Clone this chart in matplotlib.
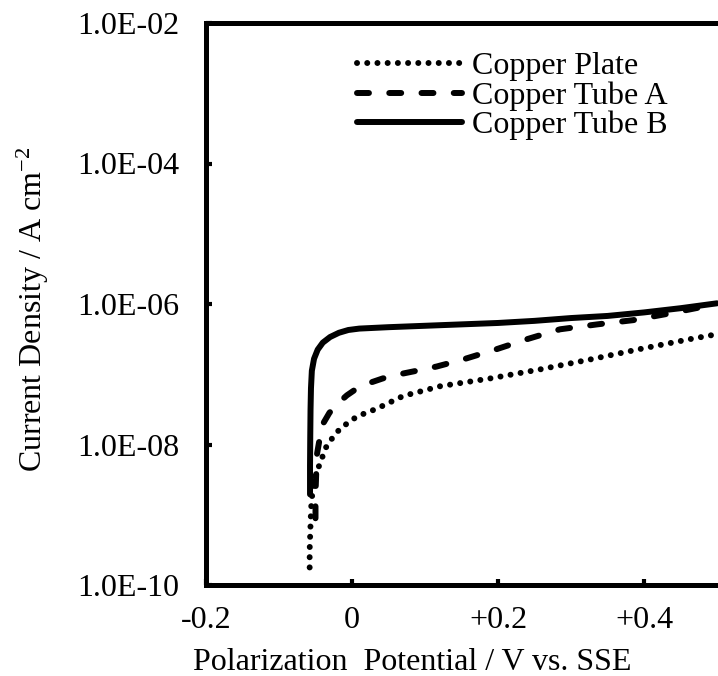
import numpy as np
import matplotlib
matplotlib.use("Agg")
import matplotlib.pyplot as plt

# ---- data (potential in V vs. SSE, log10 of current density) ----
plate_v = [-0.058, -0.058, -0.057, -0.056, -0.054, -0.050, -0.044, -0.034, -0.016, 0.007,
           0.034, 0.070, 0.121, 0.189, 0.258, 0.326, 0.395, 0.463, 0.5]
plate_log = [-9.75, -9.5, -9.2, -8.9, -8.65, -8.45, -8.27, -8.0, -7.77, -7.6,
             -7.49, -7.31, -7.17, -7.06, -6.93, -6.79, -6.64, -6.5, -6.43]

tubeA_v = [-0.050, -0.050, -0.049, -0.048, -0.044, -0.040, -0.031, -0.021, -0.007, 0.007,
           0.025, 0.042, 0.065, 0.084, 0.116, 0.152, 0.199, 0.240, 0.285, 0.336,
           0.385, 0.432, 0.5]
tubeA_log = [-9.05, -8.7, -8.4, -8.14, -7.9, -7.71, -7.55, -7.43, -7.3, -7.2,
             -7.12, -7.06, -7.0, -6.96, -6.89, -6.79, -6.64, -6.5, -6.36, -6.29,
             -6.23, -6.14, -6.0]

tubeB_v = [-0.0575, -0.0575, -0.0572, -0.0568, -0.0562, -0.055, -0.052, -0.047, -0.040, -0.030,
           -0.018, -0.005, 0.01, 0.05, 0.1, 0.15, 0.2, 0.25, 0.3, 0.35,
           0.4, 0.45, 0.5]
tubeB_log = [-8.71, -8.3, -7.9, -7.5, -7.2, -6.95, -6.78, -6.65, -6.55, -6.47,
             -6.41, -6.37, -6.35, -6.33, -6.31, -6.29, -6.27, -6.24, -6.2, -6.17,
             -6.12, -6.06, -5.99]

series_labels = ["Copper Plate", "Copper Tube A", "Copper Tube B"]

xticks = [-0.2, 0.0, 0.2, 0.4]
xtick_labels = ["-0.2", "0", "+0.2", "+0.4"]
yticks = [1e-10, 1e-8, 1e-6, 1e-4, 1e-2]
ytick_labels = ["1.0E-10", "1.0E-08", "1.0E-06", "1.0E-04", "1.0E-02"]

xlabel = "Polarization  Potential / V vs. SSE"
ylabel = r"Current Density / A cm$^{\mathregular{-2}}$"

# ---- figure ----
plt.rcParams["font.family"] = ["Liberation Serif", "DejaVu Serif"]
plt.rcParams["mathtext.fontset"] = "custom"
plt.rcParams["mathtext.rm"] = "Liberation Serif"
plt.rcParams["mathtext.it"] = "Liberation Serif:italic"
plt.rcParams["mathtext.bf"] = "Liberation Serif:bold"

W, H = 718, 676
fig = plt.figure(figsize=(W / 100, H / 100), dpi=100)
left_px, right_px, top_px, bottom_px = 206, 790, 23, 585
ax = fig.add_axes([left_px / W, 1 - bottom_px / H, (right_px - left_px) / W, (bottom_px - top_px) / H])

lw = 4.3
ax.plot(plate_v, 10 ** np.array(plate_log), color="black", lw=lw,
        linestyle=(0, (0.01, 1.7)), dash_capstyle="round", label=series_labels[0])
ax.plot(tubeA_v, 10 ** np.array(tubeA_log), color="black", lw=lw,
        linestyle=(0, (2.0, 3.4)), dash_capstyle="round", label=series_labels[1])
ax.plot(tubeB_v, 10 ** np.array(tubeB_log), color="black", lw=lw,
        linestyle="-", solid_capstyle="round", label=series_labels[2])

ax.set_yscale("log")
ax.set_xlim(-0.2, 0.6)
ax.set_ylim(1e-10, 1e-2)
ax.set_xticks(xticks)
ax.set_xticklabels(xtick_labels)
ax.set_yticks(yticks)
ax.set_yticklabels(ytick_labels)
ax.yaxis.set_minor_locator(matplotlib.ticker.NullLocator())

for s in ax.spines.values():
    s.set_linewidth(3.6)
ax.tick_params(axis="both", direction="in", length=4.5, width=3.0, labelsize=23, colors="black")
ax.tick_params(axis="y", pad=19)
ax.tick_params(axis="x", pad=15)

ax.set_xlabel(xlabel, fontsize=23)
ax.xaxis.set_label_coords((412 - left_px) / (right_px - left_px), -0.112)
ax.set_ylabel(ylabel, fontsize=23)
ax.yaxis.set_label_coords((51 - left_px) / (right_px - left_px), 0.49)

leg = ax.legend(loc="upper left", bbox_to_anchor=((357 - left_px) / (right_px - left_px), (bottom_px - 52) / (bottom_px - top_px)),
                frameon=False, fontsize=23, handlelength=3.3, handletextpad=0.3,
                labelspacing=0.0, borderpad=0, borderaxespad=0)

fig.savefig("out.png", dpi=100)
